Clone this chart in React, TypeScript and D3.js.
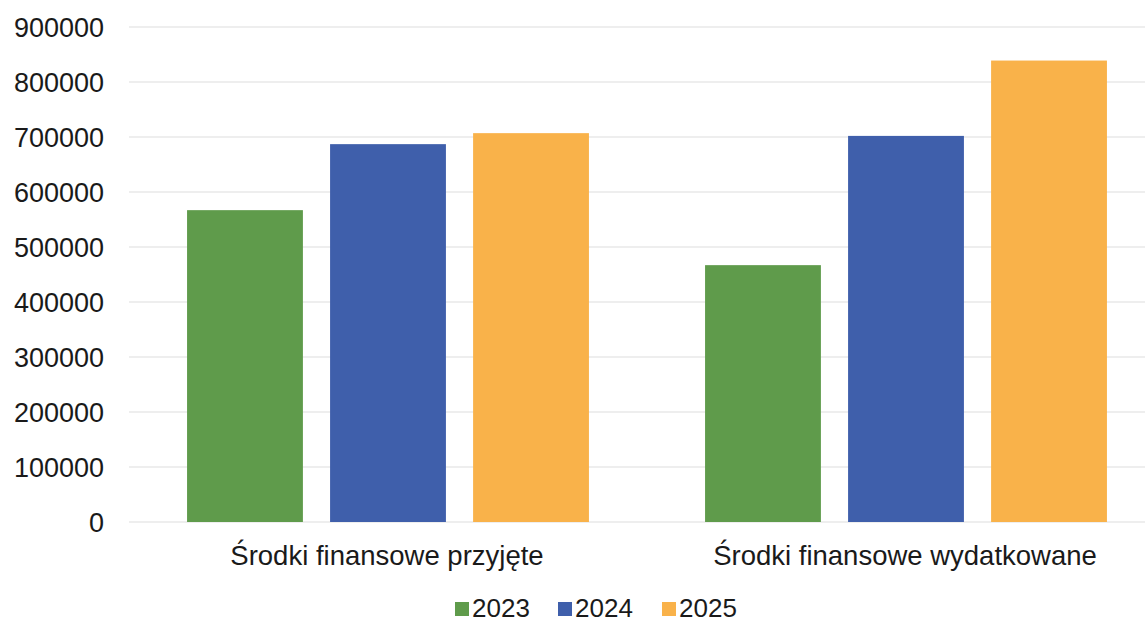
import * as d3 from "d3";
import { useEffect, useRef } from "react";

const categories = ["Środki finansowe przyjęte", "Środki finansowe wydatkowane"];
const years = ["2023", "2024", "2025"];
const values2023 = [567000, 467000];
const values2024 = [687000, 702000];
const values2025 = [707000, 839000];
const yTicks = [0, 100000, 200000, 300000, 400000, 500000, 600000, 700000, 800000, 900000];
const colors = ["#5f9b4b", "#3f5fab", "#f9b24a"];

const WIDTH = 1145;
const HEIGHT = 623;
const FONT = "'Liberation Sans', Arial, sans-serif";

export default function App() {
  const svgRef = useRef<SVGSVGElement>(null);

  useEffect(() => {
    const svg = d3.select(svgRef.current);
    svg.selectAll("*").remove();

    const series = [values2023, values2024, values2025];

    const x0 = d3.scaleBand<string>().domain(categories).range([129, 1165]);
    const x1 = d3.scaleBand<string>()
      .domain(years)
      .range([0, x0.bandwidth()])
      .paddingInner(0.19)
      .paddingOuter(0.406);
    const y = d3.scaleLinear().domain([0, 900000]).range([522, 27]);

    // siatka
    svg.append("g")
      .selectAll("line")
      .data(yTicks)
      .join("line")
      .attr("x1", 129)
      .attr("x2", WIDTH)
      .attr("y1", d => y(d))
      .attr("y2", d => y(d))
      .attr("stroke", "#e8e8e8")
      .attr("stroke-width", 1.5);

    // etykiety osi Y
    svg.append("g")
      .selectAll("text")
      .data(yTicks)
      .join("text")
      .attr("x", 104)
      .attr("y", d => y(d))
      .attr("dy", "0.36em")
      .attr("text-anchor", "end")
      .attr("font-family", FONT)
      .attr("font-size", 27)
      .attr("fill", "#1a1a1a")
      .text(d => String(d));

    // słupki
    years.forEach((yr, si) => {
      svg.append("g")
        .selectAll("rect")
        .data(categories)
        .join("rect")
        .attr("x", c => (x0(c) ?? 0) + (x1(yr) ?? 0))
        .attr("y", (_c, i) => y(series[si][i]))
        .attr("width", x1.bandwidth())
        .attr("height", (_c, i) => y(0) - y(series[si][i]))
        .attr("fill", colors[si]);
    });

    // etykiety kategorii
    svg.append("g")
      .selectAll("text")
      .data(categories)
      .join("text")
      .attr("x", c => (x0(c) ?? 0) + x0.bandwidth() / 2 - 1)
      .attr("y", 565)
      .attr("text-anchor", "middle")
      .attr("font-family", FONT)
      .attr("font-size", 27.5)
      .attr("fill", "#1a1a1a")
      .text(c => c);

    // legenda
    const legendX = [455, 558, 662];
    const legend = svg.append("g");
    years.forEach((yr, i) => {
      legend.append("rect")
        .attr("x", legendX[i])
        .attr("y", 602)
        .attr("width", 14)
        .attr("height", 14)
        .attr("fill", colors[i]);
      legend.append("text")
        .attr("x", legendX[i] + 17)
        .attr("y", 617)
        .attr("font-family", FONT)
        .attr("font-size", 26)
        .attr("fill", "#1a1a1a")
        .text(yr);
    });
  }, []);

  return (
    <svg
      ref={svgRef}
      width={WIDTH}
      height={HEIGHT}
      style={{ position: "absolute", left: 0, top: 0, background: "#fff" }}
    />
  );
}
